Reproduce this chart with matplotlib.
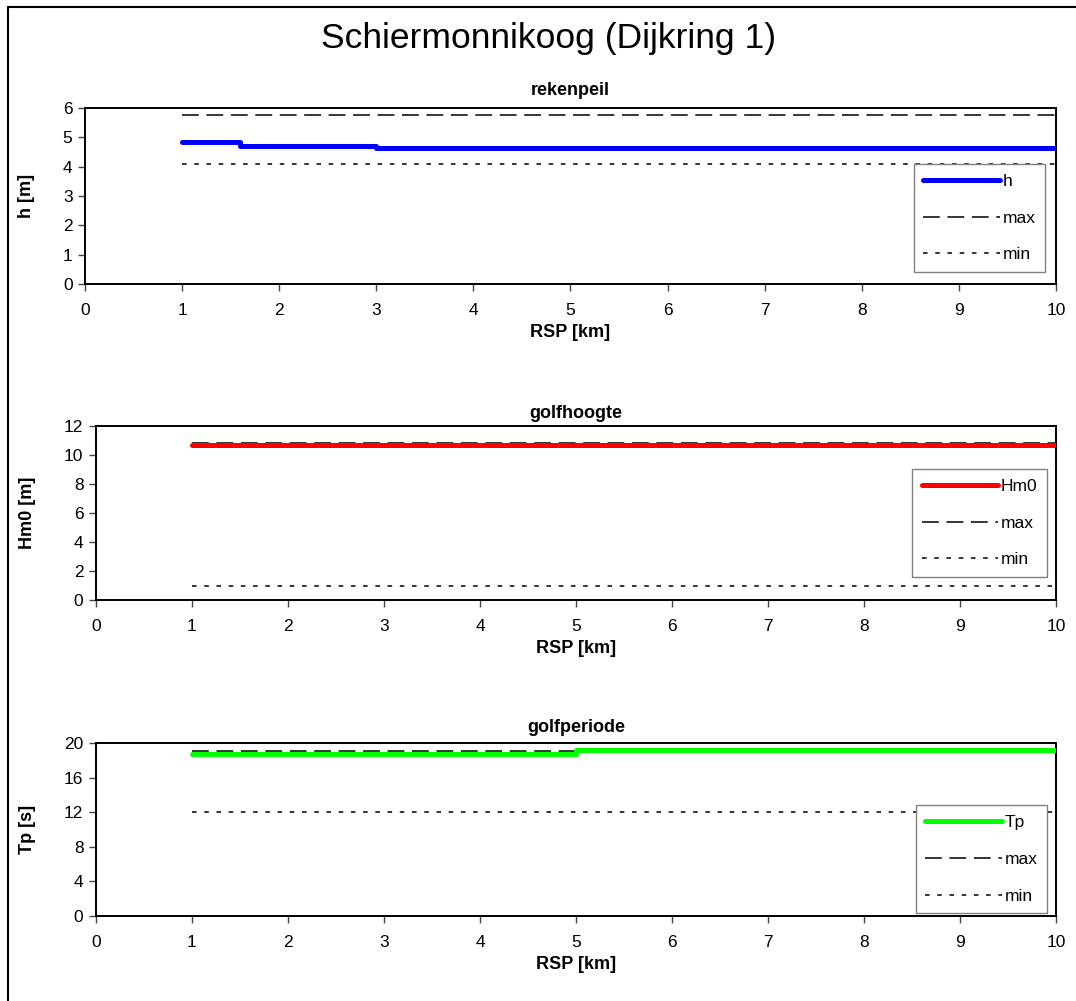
import matplotlib.pyplot as plt
from matplotlib.patches import Rectangle

plt.rcParams['font.family'] = ['Liberation Sans', 'DejaVu Sans']

# rekenpeil
h_x = [1, 1.6, 3, 10]
h_val = [4.85, 4.72, 4.65, 4.65]
h_max = [5.76, 5.76]
h_min = [4.09, 4.09]

# golfhoogte
hm0_x = [1, 10]
hm0_val = [10.68, 10.68]
hm0_max = [10.85, 10.85]
hm0_min = [1.0, 1.0]

# golfperiode
tp_x = [1, 5, 10]
tp_val = [18.7, 19.25, 19.25]
tp_max = [19.05, 19.05]
tp_min = [12.0, 12.0]

range_x = [1, 10]
x_ticks = list(range(0, 11))


def draw_panel(ax, x, vals, vmax, vmin, color, label, title, ylabel, yticks, leg_anchor, title_pad):
    ax.step(x, vals, where="post", color=color, linewidth=3.6,
            solid_capstyle="round", solid_joinstyle="round", label=label, zorder=3)
    ax.plot(range_x, vmax, color="black", linewidth=1.1, dashes=(11, 5), label="max", zorder=2)
    ax.plot(range_x, vmin, color="black", linewidth=1.1, dashes=(3, 5), label="min", zorder=2)
    ax.set_xlim(0, 10)
    ax.set_ylim(yticks[0], yticks[-1])
    ax.set_xticks(x_ticks)
    ax.set_yticks(yticks)
    ax.tick_params(direction="out", length=5, width=1, labelsize=12.5, pad=4, color="#444444")
    ax.tick_params(axis="x", pad=9)
    for sp in ax.spines.values():
        sp.set_linewidth(1.4)
    ax.set_title(title, fontsize=13, fontweight="bold", pad=title_pad)
    ax.set_xlabel("RSP [km]", fontsize=13, fontweight="bold", labelpad=4)
    ax.set_ylabel(ylabel, fontsize=13, fontweight="bold", labelpad=20)
    leg = ax.legend(loc="lower right", bbox_to_anchor=leg_anchor, fontsize=12.5,
                    handlelength=4.4, handletextpad=0.15, labelspacing=1.25,
                    borderpad=0.55, borderaxespad=0, fancybox=False, framealpha=1)
    leg.get_frame().set_edgecolor("#808080")
    leg.get_frame().set_linewidth(1.0)


fig = plt.figure(figsize=(10.76, 10.01), dpi=100)

ax1 = fig.add_axes([0.079, 0.7163, 0.9024, 0.1758])
ax2 = fig.add_axes([0.0892, 0.4006, 0.8922, 0.1738])
ax3 = fig.add_axes([0.0892, 0.0849, 0.8922, 0.1728])

draw_panel(ax1, h_x, h_val, h_max, h_min, "#0000ff", "h", "rekenpeil", "h [m]",
           [0, 1, 2, 3, 4, 5, 6], (0.9887, 0.068), 9.5)
draw_panel(ax2, hm0_x, hm0_val, hm0_max, hm0_min, "#ff0000", "Hm0", "golfhoogte", "Hm0 [m]",
           [0, 2, 4, 6, 8, 10, 12], (0.9906, 0.132), 6)
draw_panel(ax3, tp_x, tp_val, tp_max, tp_min, "#00ff00", "Tp", "golfperiode", "Tp [s]",
           [0, 4, 8, 12, 16, 20], (0.9906, 0.015), 8)

fig.text(0.51, 0.962, "Schiermonnikoog (Dijkring 1)", fontsize=25.5, ha="center", va="center")

# outer frame
fig.patches.append(Rectangle((8 / 1076, -0.05), 1.1, 1.05 - 7 / 1001, transform=fig.transFigure,
                             fill=False, edgecolor="black", linewidth=1.5))

fig.savefig("out.png", dpi=100)
